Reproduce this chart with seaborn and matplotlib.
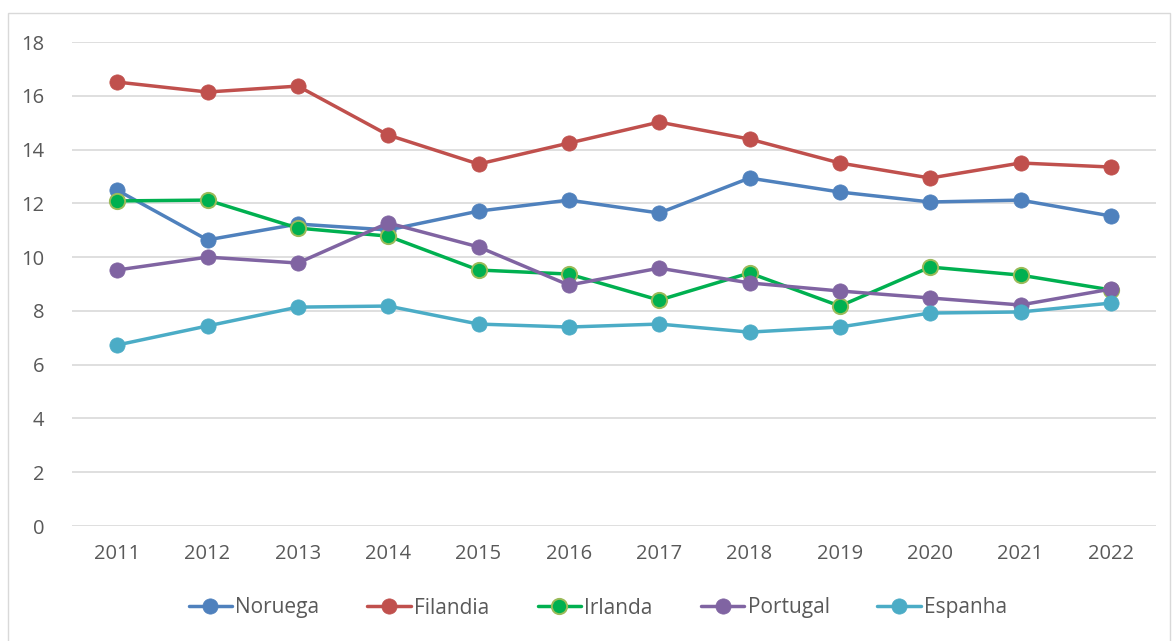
import matplotlib
matplotlib.use("Agg")
import matplotlib.pyplot as plt
import seaborn as sns
import pandas as pd
from matplotlib.patches import Rectangle

years = [2011, 2012, 2013, 2014, 2015, 2016, 2017, 2018, 2019, 2020, 2021, 2022]
noruega = [12.49, 10.64, 11.23, 11.01, 11.71, 12.12, 11.64, 12.94, 12.42, 12.05, 12.12, 11.53]
filandia = [16.51, 16.14, 16.36, 14.54, 13.46, 14.24, 15.02, 14.39, 13.50, 12.94, 13.50, 13.35]
irlanda = [12.09, 12.12, 11.08, 10.78, 9.52, 9.37, 8.40, 9.41, 8.18, 9.63, 9.33, 8.78]
portugal = [9.52, 10.00, 9.78, 11.27, 10.38, 8.96, 9.59, 9.04, 8.74, 8.48, 8.22, 8.81]
espanha = [6.73, 7.44, 8.14, 8.18, 7.51, 7.40, 7.51, 7.21, 7.40, 7.92, 7.96, 8.29]
y_ticks = [0, 2, 4, 6, 8, 10, 12, 14, 16, 18]

series = {
    "Noruega": noruega,
    "Filandia": filandia,
    "Irlanda": irlanda,
    "Portugal": portugal,
    "Espanha": espanha,
}
colors = {
    "Noruega": "#4F81BD",
    "Filandia": "#C0504D",
    "Irlanda": "#00B050",
    "Portugal": "#8064A2",
    "Espanha": "#4BACC6",
}
edges = {
    "Noruega": "#4F81BD",
    "Filandia": "#C0504D",
    "Irlanda": "#9BBB59",
    "Portugal": "#8064A2",
    "Espanha": "#4BACC6",
}

sns.set_theme(style="white")
plt.rcParams["font.family"] = ["Open Sans", "DejaVu Sans"]

fig = plt.figure(figsize=(11.72, 6.41), dpi=100)
ax = fig.add_axes([72 / 1172, (641 - 526) / 641, (1156 - 72) / 1172, (526 - 42) / 641])

for name, vals in series.items():
    df = pd.DataFrame({"Ano": years, "Valor": vals})
    sns.lineplot(data=df, x="Ano", y="Valor", ax=ax, color=colors[name],
                 linewidth=2.5, marker="o", markersize=11,
                 markerfacecolor=colors[name], markeredgecolor=edges[name],
                 markeredgewidth=1.4 if name == "Irlanda" else 0.5,
                 label=name, zorder=3)

ax.set_xlim(2010.5, 2022.5)
ax.set_ylim(0, 18)
ax.set_yticks(y_ticks)
ax.set_xticks(years)
ax.set_xticklabels([str(y) for y in years])
ax.set_xlabel("")
ax.set_ylabel("")
ax.grid(axis="y", color="#D9D9D9", linewidth=1.2)
ax.grid(axis="x", visible=False)
ax.set_axisbelow(True)
for s in ax.spines.values():
    s.set_visible(False)
ax.tick_params(axis="both", length=0, labelsize=14.5, colors="#595959")
ax.tick_params(axis="y", pad=20)
ax.tick_params(axis="x", pad=13)

handles, labels = ax.get_legend_handles_labels()
leg = fig.legend(handles, labels, loc="center", bbox_to_anchor=(598 / 1172, (641 - 608) / 641),
                 ncol=5, frameon=False, fontsize=15, handlelength=2.1,
                 columnspacing=2.3, handletextpad=0.15, labelcolor="#595959")
if ax.get_legend():
    ax.get_legend().remove()

fig.patches.append(Rectangle((8 / 1172, -0.01), (1170 - 8) / 1172, (641 - 13) / 641 + 0.01,
                             transform=fig.transFigure, fill=False,
                             edgecolor="#D9D9D9", linewidth=1.0))

fig.savefig("out.png", dpi=100)
